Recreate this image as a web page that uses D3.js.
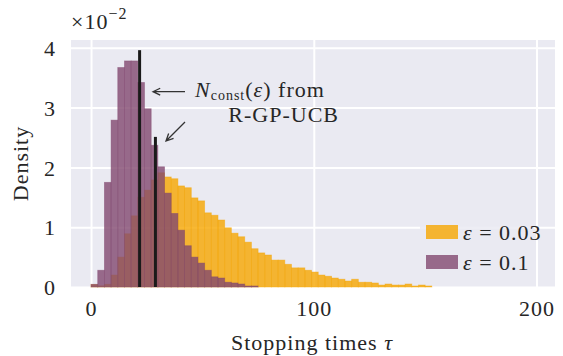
<!DOCTYPE html>
<html>
<head>
<meta charset="utf-8">
<script src="https://cdn.jsdelivr.net/npm/d3@7"></script>
<style>
  body { margin: 0; background: #fff; }
  text { font-family: "Liberation Serif", "DejaVu Serif", serif; fill: #262626; letter-spacing: 1px; }
</style>
</head>
<body>
<div id="chart"></div>
<script>
// histogram bins: start 0, width 3 (density in units of 1e-2)
const binStart = 0;
const binWidth = 3;
const densEps003 = [0.04, 0.02, 0.045, 0.2, 0.5, 0.89, 1.19, 1.50, 1.62, 1.79, 1.91, 1.84, 1.81, 1.69, 1.66,
  1.49, 1.44, 1.24, 1.20, 1.12, 0.99, 0.90, 0.84, 0.75, 0.64, 0.57, 0.535, 0.45, 0.45, 0.38, 0.32, 0.32,
  0.28, 0.25, 0.20, 0.18, 0.15, 0.13, 0.10, 0.13, 0.08, 0.08, 0.067, 0.033, 0.05, 0.033, 0.033, 0.05,
  0.017, 0.033, 0.017];
const densEps01 = [0.045, 0.28, 1.75, 2.79, 3.67, 3.78, 3.78, 3.42, 2.98, 2.37, 2.01, 1.57, 1.23, 0.95,
  0.69, 0.50, 0.40, 0.28, 0.17, 0.15, 0.08, 0.067, 0.05, 0.017, 0.017];
const nconstX = [21.8, 28.9];
const nconstH = [3.96, 2.51];
const xTicks = [0, 100, 200];
const yTicks = [0, 1, 2, 3, 4];
const legendLabels = ["\u03b5 = 0.03", "\u03b5 = 0.1"];

const config = {
  width: 563,
  height: 356,
  plot: {left: 71, right: 555, top: 40, bottom: 287},
  domain: {x: [-9, 208.3], y: [0, 4.13]},
  bg: "#eaeaf2",
  colors: ["#f6a600", "#82486f"],
  opacity: 0.8,
  font: 22
};

const svg = d3.select("#chart").append("svg")
  .attr("width", config.width)
  .attr("height", config.height);

const x = d3.scaleLinear(config.domain.x, [config.plot.left, config.plot.right]);
const y = d3.scaleLinear(config.domain.y, [config.plot.bottom, config.plot.top]);

svg.append("rect")
  .attr("x", config.plot.left).attr("y", config.plot.top)
  .attr("width", config.plot.right - config.plot.left)
  .attr("height", config.plot.bottom - config.plot.top)
  .attr("fill", config.bg);

// grid
svg.append("g")
  .attr("transform", `translate(0,${config.plot.bottom})`)
  .call(d3.axisBottom(x).tickValues(xTicks).tickSize(-(config.plot.bottom - config.plot.top)).tickFormat(""))
  .call(g => g.select(".domain").remove())
  .call(g => g.selectAll(".tick line").attr("stroke", "#fff").attr("stroke-width", 2));
svg.append("g")
  .attr("transform", `translate(${config.plot.left},0)`)
  .call(d3.axisLeft(y).tickValues(yTicks).tickSize(-(config.plot.right - config.plot.left)).tickFormat(""))
  .call(g => g.select(".domain").remove())
  .call(g => g.selectAll(".tick line").attr("stroke", "#fff").attr("stroke-width", 2));

// tick labels
svg.append("g")
  .attr("transform", `translate(0,${config.plot.bottom})`)
  .call(d3.axisBottom(x).tickValues(xTicks).tickSize(0).tickPadding(0).tickFormat(d3.format("d")))
  .call(g => g.select(".domain").remove())
  .call(g => g.selectAll(".tick text").attr("y", 29).attr("dy", null)
    .attr("font-size", config.font).attr("font-family", null).attr("fill", "#262626"));
svg.append("g")
  .attr("transform", `translate(${config.plot.left},0)`)
  .call(d3.axisLeft(y).tickValues(yTicks).tickSize(0).tickPadding(0).tickFormat(d3.format("d")))
  .call(g => g.select(".domain").remove())
  .call(g => g.selectAll(".tick text").attr("x", -15).attr("dy", "0.35em")
    .attr("font-size", config.font).attr("font-family", null).attr("fill", "#262626"));

// bars
const series = [densEps003, densEps01];
series.forEach((vals, s) => {
  svg.append("g")
    .selectAll("rect")
    .data(vals)
    .join("rect")
    .attr("x", (d, i) => x(binStart + i * binWidth))
    .attr("width", x(binWidth) - x(0))
    .attr("y", d => y(d))
    .attr("height", d => y(0) - y(d))
    .attr("fill", config.colors[s])
    .attr("fill-opacity", config.opacity)
    .attr("stroke", config.colors[s])
    .attr("stroke-opacity", 0.5)
    .attr("stroke-width", 0.8);
});

// N_const markers
svg.append("g")
  .selectAll("line")
  .data(nconstX)
  .join("line")
  .attr("x1", d => x(d)).attr("x2", d => x(d))
  .attr("y1", y(0)).attr("y2", (d, i) => y(nconstH[i]))
  .attr("stroke", "#1a1a1a")
  .attr("stroke-width", 3);

// arrows
function arrow(x1, y1, x2, y2) {
  const a = Math.atan2(y2 - y1, x2 - x1), L = 8, w = 0.45;
  const p1 = [x2 - L * Math.cos(a - w), y2 - L * Math.sin(a - w)];
  const p2 = [x2 - L * Math.cos(a + w), y2 - L * Math.sin(a + w)];
  svg.append("path")
    .attr("d", `M${x1},${y1}L${x2},${y2}M${p1}L${x2},${y2}L${p2}`)
    .attr("fill", "none")
    .attr("stroke", "#333")
    .attr("stroke-width", 1.3);
}
arrow(185, 91.7, 153, 91.7);
arrow(185, 122, 166, 141);

const ann = svg.append("text").attr("x", 195).attr("y", 97).attr("font-size", config.font);
ann.append("tspan").attr("font-style", "italic").text("N");
ann.append("tspan").attr("font-size", 14).attr("dy", 3).text("const");
ann.append("tspan").attr("dy", -3).text("(");
ann.append("tspan").attr("font-style", "italic").text("\u03b5");
ann.append("tspan").text(") from");
svg.append("text").attr("x", 339).attr("y", 122).attr("text-anchor", "end")
  .attr("font-size", config.font).text("R-GP-UCB");

// offset text
const off = svg.append("text").attr("x", 71).attr("y", 29).attr("font-size", config.font);
off.append("tspan").text("\u00d710");
off.append("tspan").attr("font-size", 16).attr("dy", -10).text("\u22122");

// axis labels
const xl = svg.append("text").attr("x", 312).attr("y", 350).attr("text-anchor", "middle")
  .attr("font-size", config.font);
xl.append("tspan").text("Stopping times ");
xl.append("tspan").attr("font-style", "italic").text("\u03c4");
svg.append("text")
  .attr("transform", `translate(28,${(config.plot.top + config.plot.bottom) / 2}) rotate(-90)`)
  .attr("text-anchor", "middle")
  .attr("font-size", config.font)
  .text("Density");

// legend
const lg = svg.append("g");
lg.append("rect").attr("x", 420).attr("y", 217).attr("width", 114).attr("height", 60)
  .attr("fill", config.bg).attr("fill-opacity", 0.85);
legendLabels.forEach((lab, i) => {
  const yy = 225 + i * 30;
  lg.append("rect").attr("x", 426).attr("y", yy).attr("width", 32).attr("height", 14)
    .attr("fill", config.colors[i]).attr("fill-opacity", config.opacity);
  const t = lg.append("text").attr("x", 463).attr("y", yy + 15).attr("font-size", config.font);
  t.append("tspan").attr("font-style", "italic").text(lab.slice(0, 1));
  t.append("tspan").text(lab.slice(1));
});
</script>
</body>
</html>
